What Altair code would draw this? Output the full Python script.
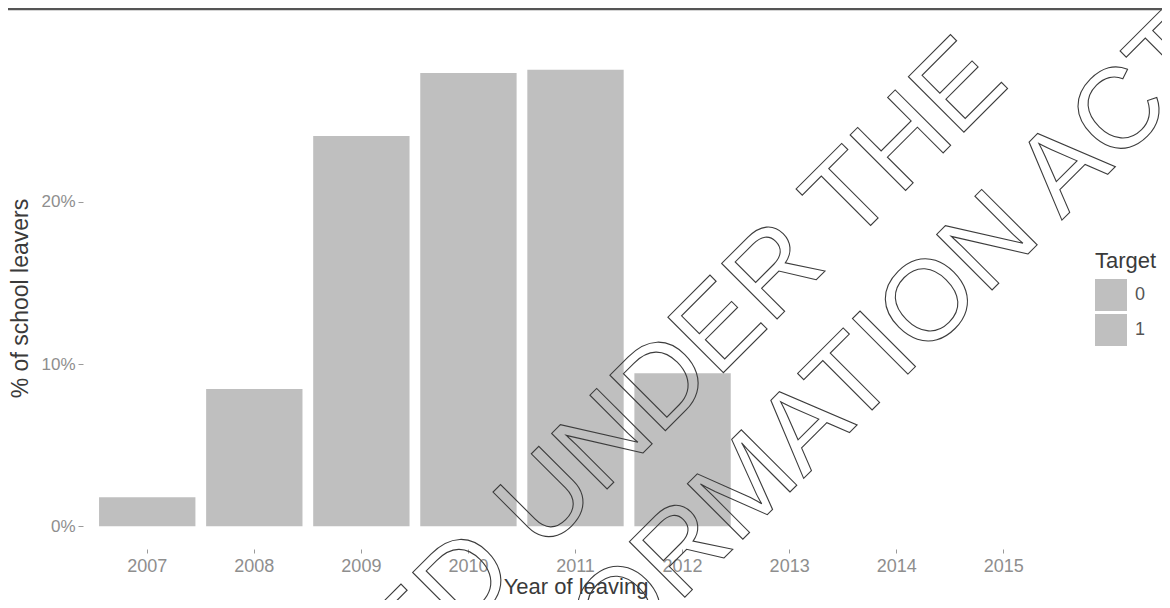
import altair as alt
import pandas as pd

# ---- data ----
years_all = ["2007", "2008", "2009", "2010", "2011", "2012", "2013", "2014", "2015"]
bar_years = ["2007", "2008", "2009", "2010", "2011", "2012"]
bar_share = [0.0179, 0.0846, 0.2407, 0.2796, 0.2815, 0.0944]
bar_target = ["0", "0", "0", "0", "0", "0"]
target_levels = ["0", "1"]
y_ticks = [0.0, 0.1, 0.2]
stamp_line1 = "RELEASED UNDER THE"
stamp_line2 = "FREEDOM OF INFORMATION ACT"

df = pd.DataFrame({"Year": bar_years, "Share": bar_share, "Target": bar_target})

BAR = "#bfbfbf"
FONT = "Liberation Sans"
W, H = 985, 502

bars = alt.Chart(df).mark_bar(color=BAR).encode(
    x=alt.X("Year:O", sort=years_all,
            scale=alt.Scale(domain=years_all, paddingInner=0.1, paddingOuter=0.15),
            axis=alt.Axis(title="Year of leaving", labelAngle=0, domain=False, ticks=True,
                          tickSize=4, tickColor="#9a9a9a", labelPadding=4,
                          labelColor="#8e8e8e", labelFontSize=18, labelFont=FONT,
                          titleFont=FONT, titleFontSize=22, titleFontWeight="normal",
                          titleColor="#3a3a3a", titlePadding=1, grid=False)),
    y=alt.Y("Share:Q", stack="zero",
            scale=alt.Scale(domain=[-0.0141, 0.2956], nice=False, zero=False),
            axis=alt.Axis(title="% of school leavers", values=y_ticks, format=".0%",
                          domain=False, tickSize=5, tickColor="#9a9a9a", labelPadding=3,
                          labelColor="#8e8e8e", labelFontSize=17, labelFont=FONT,
                          titleFont=FONT, titleFontSize=23, titleFontWeight="normal",
                          titleColor="#3a3a3a", titlePadding=8, grid=False)),
    color=alt.Color("Target:N",
                    scale=alt.Scale(domain=target_levels, range=[BAR, BAR]),
                    legend=alt.Legend(orient="none", legendX=1012, legendY=204,
                                      title="Target", titleFont=FONT, titleFontSize=22,
                                      titleFontWeight="normal", titleColor="#3a3a3a",
                                      titlePadding=6, symbolType="square",
                                      symbolSize=1024, symbolStrokeWidth=0,
                                      labelFont=FONT, labelFontSize=18,
                                      labelColor="#555555", labelOffset=8,
                                      rowPadding=3, padding=0)),
)

stamp1 = alt.Chart(pd.DataFrame({"t": [stamp_line1]})).mark_text(
    font=FONT, fontSize=114, angle=315, align="right", baseline="alphabetic",
    fillOpacity=0, stroke="#3c3c3c", strokeWidth=1.1,
).encode(text="t:N", x=alt.value(928), y=alt.value(38))

stamp2 = alt.Chart(pd.DataFrame({"t": [stamp_line2]})).mark_text(
    font=FONT, fontSize=114, angle=315, align="right", baseline="alphabetic",
    fillOpacity=0, stroke="#3c3c3c", strokeWidth=1.1,
).encode(text="t:N", x=alt.value(1140), y=alt.value(12))

topline = alt.Chart(pd.DataFrame({"k": [0]})).mark_rule(color="#555555", strokeWidth=2.5).encode(
    x=alt.value(-75), x2=alt.value(1080), y=alt.value(-38)
)

chart = alt.layer(bars, stamp1, stamp2, topline).properties(
    width=W, height=H,
    background="white",
    autosize=alt.AutoSizeParams(type="none"),
    padding={"left": 75, "top": 39, "right": 94, "bottom": 51},
).configure_view(strokeWidth=0, strokeOpacity=0)

chart.save("out.html", embed_options={"renderer": "svg", "actions": False})
